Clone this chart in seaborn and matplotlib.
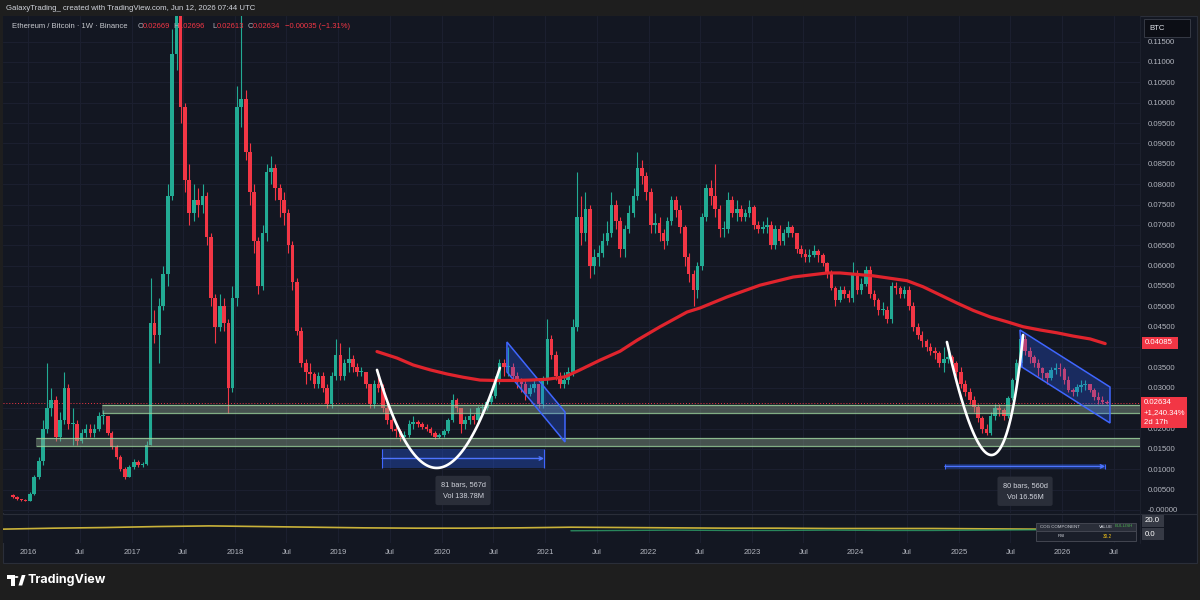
#!/usr/bin/env python3
"""
ETH/BTC weekly chart, TradingView dark style, with drawings.
"""
import numpy as np
import pandas as pd
import matplotlib
matplotlib.use('Agg')
import matplotlib.pyplot as plt
import matplotlib.dates as mdates
from matplotlib.patches import Rectangle, Polygon, Circle
import seaborn as sns

# ============================================================================
# Data (semi-monthly candles, 1st / 15th)
# ============================================================================
candle_start = '2015-11-01'
first_open = 0.0036

closes = [
    0.0032, 0.0026, 0.0024, 0.0023,                                    # 2015
    0.0040, 0.0080, 0.0120, 0.0200, 0.0250, 0.0270, 0.0180, 0.0220,    # 2016
    0.0300, 0.0210, 0.0210, 0.0170, 0.0190, 0.0200, 0.0190, 0.0200,
    0.0230, 0.0230, 0.0190, 0.0155, 0.0130, 0.0100, 0.0082, 0.0106,
    0.0118, 0.0110, 0.0112, 0.0160, 0.0460, 0.0430, 0.0500, 0.0580,    # 2017
    0.0770, 0.1120, 0.1350, 0.0990, 0.0810, 0.0730, 0.0760, 0.0750,
    0.0770, 0.0670, 0.0520, 0.0450, 0.0500, 0.0460, 0.0300, 0.0520,
    0.0990, 0.1010, 0.0880, 0.0780, 0.0660, 0.0550, 0.0680, 0.0830,    # 2018
    0.0840, 0.0790, 0.0760, 0.0730, 0.0650, 0.0560, 0.0440, 0.0360,
    0.0340, 0.0335, 0.0310, 0.0330, 0.0300, 0.0260, 0.0330, 0.0380,
    0.0330, 0.0360, 0.0370, 0.0350, 0.0340, 0.0340, 0.0310, 0.0260,    # 2019
    0.0310, 0.0300, 0.0250, 0.0220, 0.0200, 0.0193, 0.0180, 0.0185,
    0.0210, 0.0215, 0.0210, 0.0205, 0.0200, 0.0190, 0.0180, 0.0185,
    0.0195, 0.0220, 0.0270, 0.0250, 0.0210, 0.0220, 0.0230, 0.0220,    # 2020
    0.0250, 0.0250, 0.0265, 0.0280, 0.0320, 0.0360, 0.0350, 0.0350,
    0.0330, 0.0320, 0.0310, 0.0285, 0.0300, 0.0310, 0.0260, 0.0320,
    0.0420, 0.0380, 0.0330, 0.0310, 0.0320, 0.0340, 0.0450, 0.0720,    # 2021
    0.0680, 0.0740, 0.0600, 0.0620, 0.0630, 0.0660, 0.0680, 0.0750,
    0.0710, 0.0640, 0.0690, 0.0730, 0.0770, 0.0840, 0.0820, 0.0780,
    0.0700, 0.0705, 0.0680, 0.0660, 0.0710, 0.0760, 0.0737, 0.0696,    # 2022
    0.0620, 0.0580, 0.0540, 0.0600, 0.0720, 0.0790, 0.0770, 0.0740,
    0.0690, 0.0690, 0.0760, 0.0730, 0.0740, 0.0720, 0.0730, 0.0745,
    0.0700, 0.0690, 0.0695, 0.0700, 0.0650, 0.0690, 0.0660, 0.0680,    # 2023
    0.0696, 0.0680, 0.0640, 0.0628, 0.0620, 0.0625, 0.0635, 0.0625,
    0.0606, 0.0580, 0.0545, 0.0516, 0.0540, 0.0530, 0.0520, 0.0580,
    0.0540, 0.0556, 0.0590, 0.0530, 0.0516, 0.0490, 0.0490, 0.0470,    # 2024
    0.0550, 0.0545, 0.0530, 0.0540, 0.0500, 0.0450, 0.0430, 0.0415,
    0.0400, 0.0390, 0.0385, 0.0360, 0.0370, 0.0376, 0.0360, 0.0340,
    0.0310, 0.0290, 0.0270, 0.0254, 0.0225, 0.0200, 0.0188, 0.0230,    # 2025
    0.0250, 0.0245, 0.0230, 0.0275, 0.0320, 0.0360, 0.0420, 0.0390,
    0.0376, 0.0360, 0.0348, 0.0336, 0.0325, 0.0344, 0.0348, 0.0345,
    0.0320, 0.0295, 0.0290, 0.0303, 0.0307, 0.0310, 0.0295, 0.0278,    # 2026
    0.0270, 0.0265, 0.02634,
]
highs = [
    0.0040, 0.0034, 0.0027, 0.0026,
    0.0045, 0.0085, 0.0130, 0.0220, 0.0360, 0.0300, 0.0280, 0.0240,
    0.0340, 0.0310, 0.0250, 0.0220, 0.0200, 0.0210, 0.0210, 0.0210,
    0.0240, 0.0245, 0.0230, 0.0195, 0.0160, 0.0135, 0.0105, 0.0110,
    0.0125, 0.0122, 0.0118, 0.0170, 0.0570, 0.0490, 0.0520, 0.0600,
    0.0800, 0.1180, 0.1560, 0.1400, 0.1000, 0.0850, 0.0800, 0.0790,
    0.0800, 0.0780, 0.0680, 0.0530, 0.0530, 0.0520, 0.0470, 0.0550,
    0.1040, 0.1250, 0.1030, 0.0900, 0.0800, 0.0670, 0.0700, 0.0850,
    0.0870, 0.0850, 0.0800, 0.0780, 0.0740, 0.0660, 0.0570, 0.0450,
    0.0370, 0.0360, 0.0340, 0.0340, 0.0340, 0.0310, 0.0340, 0.0420,
    0.0410, 0.0370, 0.0400, 0.0380, 0.0360, 0.0350, 0.0340, 0.0310,
    0.0320, 0.0340, 0.0310, 0.0260, 0.0225, 0.0210, 0.0200, 0.0195,
    0.0220, 0.0230, 0.0220, 0.0215, 0.0210, 0.0205, 0.0195, 0.0190,
    0.0200, 0.0225, 0.0285, 0.0275, 0.0250, 0.0230, 0.0250, 0.0235,
    0.0255, 0.0260, 0.0270, 0.0285, 0.0330, 0.0370, 0.0370, 0.0400,
    0.0360, 0.0340, 0.0325, 0.0320, 0.0310, 0.0320, 0.0310, 0.0330,
    0.0470, 0.0430, 0.0390, 0.0340, 0.0340, 0.0350, 0.0470, 0.0830,
    0.0770, 0.0780, 0.0750, 0.0640, 0.0650, 0.0680, 0.0710, 0.0780,
    0.0760, 0.0720, 0.0700, 0.0750, 0.0790, 0.0880, 0.0860, 0.0830,
    0.0790, 0.0730, 0.0720, 0.0690, 0.0720, 0.0770, 0.0770, 0.0750,
    0.0700, 0.0630, 0.0590, 0.0610, 0.0730, 0.0800, 0.0810, 0.0850,
    0.0750, 0.0710, 0.0780, 0.0770, 0.0760, 0.0750, 0.0740, 0.0760,
    0.0750, 0.0710, 0.0710, 0.0720, 0.0710, 0.0700, 0.0700, 0.0690,
    0.0710, 0.0700, 0.0680, 0.0650, 0.0640, 0.0640, 0.0650, 0.0640,
    0.0630, 0.0610, 0.0590, 0.0550, 0.0550, 0.0550, 0.0540, 0.0610,
    0.0590, 0.0570, 0.0600, 0.0600, 0.0540, 0.0520, 0.0510, 0.0500,
    0.0560, 0.0560, 0.0550, 0.0550, 0.0550, 0.0510, 0.0460, 0.0440,
    0.0420, 0.0410, 0.0400, 0.0390, 0.0400, 0.0390, 0.0380, 0.0365,
    0.0350, 0.0320, 0.0300, 0.0280, 0.0260, 0.0230, 0.0210, 0.0240,
    0.0260, 0.0260, 0.0250, 0.0280, 0.0325, 0.0370, 0.0430, 0.0430,
    0.0400, 0.0380, 0.0370, 0.0350, 0.0340, 0.0350, 0.0360, 0.0360,
    0.0350, 0.0330, 0.0300, 0.0310, 0.0320, 0.0320, 0.0310, 0.0300,
    0.0290, 0.0280, 0.0270,
]
lows = [
    0.0029, 0.0024, 0.0022, 0.0021,
    0.0022, 0.0038, 0.0075, 0.0110, 0.0190, 0.0230, 0.0170, 0.0170,
    0.0210, 0.0200, 0.0160, 0.0160, 0.0165, 0.0180, 0.0180, 0.0180,
    0.0195, 0.0210, 0.0185, 0.0150, 0.0125, 0.0095, 0.0075, 0.0080,
    0.0100, 0.0105, 0.0105, 0.0110, 0.0160, 0.0410, 0.0360, 0.0490,
    0.0550, 0.0760, 0.1080, 0.0950, 0.0780, 0.0700, 0.0710, 0.0720,
    0.0730, 0.0650, 0.0500, 0.0410, 0.0440, 0.0440, 0.0237, 0.0290,
    0.0500, 0.0940, 0.0860, 0.0750, 0.0630, 0.0530, 0.0540, 0.0660,
    0.0800, 0.0760, 0.0720, 0.0700, 0.0630, 0.0540, 0.0430, 0.0350,
    0.0310, 0.0320, 0.0300, 0.0300, 0.0290, 0.0250, 0.0250, 0.0320,
    0.0320, 0.0320, 0.0340, 0.0340, 0.0330, 0.0330, 0.0300, 0.0250,
    0.0250, 0.0290, 0.0240, 0.0210, 0.0195, 0.0180, 0.0170, 0.0175,
    0.0180, 0.0200, 0.0205, 0.0200, 0.0195, 0.0185, 0.0175, 0.0178,
    0.0180, 0.0190, 0.0215, 0.0240, 0.0190, 0.0200, 0.0210, 0.0210,
    0.0215, 0.0240, 0.0245, 0.0260, 0.0275, 0.0310, 0.0330, 0.0330,
    0.0320, 0.0300, 0.0290, 0.0270, 0.0280, 0.0290, 0.0250, 0.0250,
    0.0310, 0.0370, 0.0320, 0.0300, 0.0300, 0.0310, 0.0330, 0.0440,
    0.0650, 0.0660, 0.0570, 0.0580, 0.0600, 0.0620, 0.0650, 0.0670,
    0.0690, 0.0620, 0.0620, 0.0680, 0.0720, 0.0760, 0.0800, 0.0760,
    0.0680, 0.0680, 0.0660, 0.0640, 0.0650, 0.0700, 0.0720, 0.0680,
    0.0600, 0.0560, 0.0500, 0.0520, 0.0590, 0.0710, 0.0750, 0.0720,
    0.0670, 0.0670, 0.0680, 0.0720, 0.0710, 0.0710, 0.0710, 0.0720,
    0.0690, 0.0680, 0.0680, 0.0680, 0.0640, 0.0640, 0.0650, 0.0650,
    0.0670, 0.0670, 0.0630, 0.0620, 0.0610, 0.0610, 0.0620, 0.0610,
    0.0600, 0.0570, 0.0540, 0.0500, 0.0510, 0.0520, 0.0510, 0.0510,
    0.0530, 0.0530, 0.0550, 0.0520, 0.0500, 0.0480, 0.0480, 0.0460,
    0.0460, 0.0530, 0.0520, 0.0520, 0.0490, 0.0440, 0.0420, 0.0400,
    0.0390, 0.0380, 0.0370, 0.0350, 0.0340, 0.0360, 0.0355, 0.0330,
    0.0300, 0.0280, 0.0260, 0.0240, 0.0215, 0.0190, 0.0183, 0.0185,
    0.0220, 0.0230, 0.0220, 0.0225, 0.0270, 0.0310, 0.0350, 0.0380,
    0.0360, 0.0350, 0.0330, 0.0320, 0.0310, 0.0320, 0.0335, 0.0330,
    0.0310, 0.0290, 0.0280, 0.0280, 0.0290, 0.0295, 0.0290, 0.0270,
    0.0260, 0.0260, 0.0261,
]

# 200-week moving average (red line)
ma_dates = ['2019-05-17', '2019-07-27', '2019-09-22', '2019-11-21', '2020-01-19',
            '2020-03-16', '2020-05-15', '2020-07-14', '2020-09-09', '2020-11-08',
            '2021-01-07', '2021-03-11', '2021-05-03', '2021-07-13', '2021-09-22',
            '2021-11-21', '2022-02-10', '2022-05-16', '2022-07-01', '2022-10-04',
            '2023-01-29', '2023-05-26', '2023-09-23', '2023-11-07', '2024-03-03',
            '2024-07-01', '2024-08-27', '2024-10-26', '2024-12-25', '2025-02-20',
            '2025-04-21', '2025-06-20', '2025-08-15', '2025-10-14', '2025-12-13',
            '2026-02-08', '2026-04-09', '2026-06-01']
ma_values = [0.0389, 0.0373, 0.0356, 0.0344, 0.0334, 0.0326, 0.0319, 0.0318, 0.0318, 0.0319,
             0.0321, 0.0327, 0.0344, 0.0368, 0.0390, 0.0417, 0.0450, 0.0486, 0.0496, 0.0523,
             0.0552, 0.0572, 0.0582, 0.0582, 0.0575, 0.0563, 0.0548, 0.0528, 0.0508, 0.0490,
             0.0474, 0.0462, 0.0450, 0.0442, 0.0435, 0.0427, 0.0420, 0.04085]

# lower pane oscillator lines
osc_start = '2015-10-01'
osc_yellow = [9.0, 10.5, 11.5, 13.0, 14.0, 13.0, 12.0, 11.0, 10.5, 10.5, 11.0,
              12.0, 11.5, 11.0, 10.5, 10.5, 10.0, 10.0, 10.0, 9.5, 9.0, 9.0]
osc_green_start = '2021-04-01'
osc_green = [6.5, 7.0, 7.5, 7.0, 7.0, 7.5, 7.0, 7.0, 7.5, 8.0, 8.5]

# drawings: support zones (start date, low, high)
zones = [('2016-09-18', 0.0238, 0.0258), ('2016-01-29', 0.0157, 0.0177)]
# falling channels (corner dates / prices)
channels = [
    (['2020-08-18', '2021-03-11', '2021-03-11', '2020-08-18'], [0.04125, 0.02406, 0.0167, 0.0339]),
    (['2025-08-04', '2026-06-18', '2026-06-18', '2025-08-11'], [0.0442, 0.0302, 0.02136, 0.0351]),
]
# cup curves (start, control, end)
cups = [
    (['2019-05-17', '2019-12-10', '2020-07-24'], [0.0344, -0.0140, 0.0349]),
    (['2024-11-19', '2025-05-22', '2025-08-15'], [0.04125, -0.0151, 0.04297]),
]
# date ranges (start, end, low, high, label)
ranges = [
    ('2019-06-04', '2020-12-27', 0.0103, 0.0150, '81 bars, 567d\nVol 138.78M'),
    ('2024-11-12', '2026-06-01', 0.0101, 0.0113, '80 bars, 560d\nVol 16.56M'),
]
last_price = 0.02634
ma_last = 0.04085

# ============================================================================
# Style
# ============================================================================
sns.set_theme(style='dark')
plt.rcParams['font.family'] = ['Liberation Sans', 'DejaVu Sans']

BG = '#131722'
FRAME = '#1e1e1e'
GRID = '#1c2030'
TXT = '#b2b5be'
UP = '#22ab94'
DOWN = '#f23645'
MA_RED = '#e0242d'
BLUE = '#2962ff'

W, H = 1200, 600
def fx(px):
    return px / W
def fy(py):
    return 1 - py / H

fig = plt.figure(figsize=(12, 6), dpi=100, facecolor=FRAME)
fig.add_artist(Rectangle((fx(3), fy(563)), 1194 / W, 547 / H, transform=fig.transFigure,
                         facecolor=BG, edgecolor='#2a2e39', lw=0.8, zorder=-1))

ax = fig.add_axes([fx(3), fy(513), 1137 / W, 497 / H])
ax2 = fig.add_axes([fx(3), fy(543), 1137 / W, 29 / H])
for a in (ax, ax2):
    a.set_facecolor(BG)
    for s in a.spines.values():
        s.set_visible(False)

xmin, xmax = pd.Timestamp('2015-10-04'), pd.Timestamp('2026-10-02')

# ============================================================================
# Candles
# ============================================================================
dates = pd.date_range(candle_start, periods=len(closes), freq='SMS') + pd.Timedelta(days=7)
df = pd.DataFrame({'date': dates, 'close': closes, 'high': highs, 'low': lows})
df['open'] = [first_open] + closes[:-1]
df['high'] = df[['high', 'open', 'close']].max(axis=1)
df['low'] = df[['low', 'open', 'close']].min(axis=1)
colors = np.where(df['close'] >= df['open'], UP, DOWN)

ax.vlines(df['date'], df['low'], df['high'], colors=colors, lw=0.8, zorder=3)
ax.bar(df['date'], (df['close'] - df['open']).abs().clip(lower=0.00025),
       bottom=df[['open', 'close']].min(axis=1), width=12.5, color=colors, linewidth=0, zorder=3)

# 200W MA
sns.lineplot(x=pd.to_datetime(ma_dates), y=ma_values, ax=ax, color=MA_RED, lw=2.3, zorder=5)

# current price dotted line
ax.axhline(last_price, color=DOWN, ls=(0, (1, 2)), lw=0.7, zorder=2)

# zones
for start, lo, hi in zones:
    ax.fill_between([pd.Timestamp(start), xmax], lo, hi, color='#8fa58f', alpha=0.42, lw=0, zorder=4)
    ax.hlines([lo, hi], pd.Timestamp(start), xmax, color='#9ed49e', lw=0.9, alpha=0.8, zorder=4)

# channels
for cd, cp in channels:
    pts = np.column_stack([mdates.date2num(pd.to_datetime(cd)), cp])
    ax.add_patch(Polygon(pts, closed=True, facecolor=BLUE, alpha=0.28, edgecolor='none', zorder=4))
    ax.add_patch(Polygon(pts, closed=True, facecolor='none', edgecolor='#3f66ff', lw=1.1, zorder=4))

# cups (quadratic bezier)
t = np.linspace(0, 1, 120)
for cd, cp in cups:
    xs = mdates.date2num(pd.to_datetime(cd))
    bx = (1 - t) ** 2 * xs[0] + 2 * (1 - t) * t * xs[1] + t ** 2 * xs[2]
    by = (1 - t) ** 2 * cp[0] + 2 * (1 - t) * t * cp[1] + t ** 2 * cp[2]
    ax.plot(mdates.num2date(bx), by, color='white', lw=1.9, zorder=6)

# date ranges
for start, end, lo, hi, label in ranges:
    s, e = pd.Timestamp(start), pd.Timestamp(end)
    ax.fill_between([s, e], lo, hi, color=BLUE, alpha=0.32, lw=0, zorder=4)
    ax.vlines([s, e], lo, hi, color='#3f66ff', lw=0.8, zorder=4)
    mid = (lo + hi) / 2
    ax.annotate('', xy=(e, mid), xytext=(s, mid),
                arrowprops=dict(arrowstyle='->', color='#4d74ff', lw=1.0,
                                shrinkA=0, shrinkB=0, mutation_scale=6), zorder=5)
    ax.text(s + (e - s) / 2, lo - 0.0055, label, ha='center', va='center',
            color='#d1d4dc', fontsize=5.3, linespacing=2.0, zorder=7,
            bbox=dict(boxstyle='round,pad=0.7,rounding_size=0.3', fc='#2a2e39', ec='none'))

# axes, grid, ticks (labels hidden where a price tag sits on top)
ax.set_xlim(xmin, xmax)
ax.set_ylim(-0.000737, 0.12129)
price_ticks = np.round(np.arange(0, 0.1151, 0.005), 3)
covered = {0.025, 0.04}
ax.set_yticks(price_ticks)
ax.set_yticklabels(['' if v in covered else ('-0.00000' if v == 0 else f'{v:.5f}')
                    for v in price_ticks])
ax.yaxis.tick_right()
ax.tick_params(axis='y', length=0, pad=5.5, labelsize=5.6, labelcolor=TXT)
time_ticks = [pd.Timestamp(f'{y}-{m:02d}-01') for y in range(2016, 2027) for m in (1, 7)]
time_labels = [str(d.year) if d.month == 1 else 'Jul' for d in time_ticks]
ax.set_xticks(time_ticks)
ax.tick_params(axis='x', length=0, labelbottom=False)
ax.grid(True, color=GRID, lw=0.7)
ax.set_xlabel('')
ax.set_ylabel('')

# lower pane
osc_dates = pd.date_range(osc_start, periods=len(osc_yellow), freq='6MS')
green_dates = pd.date_range(osc_green_start, periods=len(osc_green), freq='6MS')
sns.lineplot(x=osc_dates, y=osc_yellow, ax=ax2, color='#c9b23a', lw=1.2)
sns.lineplot(x=green_dates, y=osc_green, ax=ax2, color='#2fa36b', lw=1.0, alpha=0.8)
ax2.set_xlim(xmin, xmax)
ax2.set_ylim(-12.3, 32.3)
ax2.set_yticks([])
ax2.set_xticks(time_ticks)
ax2.set_xticklabels(time_labels)
ax2.tick_params(axis='x', length=0, pad=4.5, labelsize=5.6, labelcolor=TXT)
ax2.grid(True, axis='x', color=GRID, lw=0.7)
ax2.set_xlabel('')
ax2.set_ylabel('')

# separators
fig.add_artist(plt.Line2D([fx(3), fx(1197)], [fy(513.5)] * 2, color='#2a2e39', lw=0.8))
fig.add_artist(plt.Line2D([fx(1140), fx(1140)], [fy(16), fy(543)], color='#1f2330', lw=0.6))

# ============================================================================
# Header, labels, footer
# ============================================================================
fig.text(fx(6), fy(8.5), 'GalaxyTrading_ created with TradingView.com, Jun 12, 2026 07:44 UTC',
         color='#d1d4dc', fontsize=5.6, va='center')
hdr = [(12, 'Ethereum / Bitcoin · 1W · Binance', '#c8cad0'),
       (138, 'O', TXT), (142.5, '0.02669', DOWN),
       (173, 'H', TXT), (178, '0.02696', DOWN),
       (212, 'L', TXT), (216.5, '0.02613', DOWN),
       (248, 'C', TXT), (253, '0.02634', DOWN),
       (285, '−0.00035 (−1.31%)', DOWN)]
for x, s, c in hdr:
    fig.text(fx(x), fy(27), s, color=c, fontsize=5.5, va='center', zorder=8)

def label_box(x0, y0, x1, y1, fc, ec='none'):
    fig.add_artist(Rectangle((fx(x0), fy(y1)), (x1 - x0) / W, (y1 - y0) / H,
                             transform=fig.transFigure, facecolor=fc, edgecolor=ec, lw=0.7, zorder=6))

label_box(1144, 19, 1190, 37, '#0c0e15', '#363a45')
fig.text(fx(1149), fy(28), 'BTC', color='#e0e3eb', fontsize=5.6, va='center', zorder=7)

label_box(1142, 337, 1178, 349, DOWN)
fig.text(fx(1145), fy(343), f'{ma_last:.5f}', color='white', fontsize=5.6, va='center', zorder=7)

label_box(1141, 397, 1187, 428, DOWN)
for yy, s in [(403, f'{last_price:.5f}'), (412.5, '+1,240.34%'), (422, '2d 17h')]:
    fig.text(fx(1144), fy(yy), s, color='white', fontsize=5.6, va='center', zorder=7)

label_box(1142, 515, 1164, 527, '#363a45')
fig.text(fx(1145), fy(521), '20.0', color='white', fontsize=5.6, va='center', zorder=7)
label_box(1142, 528, 1164, 540, '#363a45')
fig.text(fx(1145), fy(534), '0.0', color='white', fontsize=5.6, va='center', zorder=7)

# small table in lower pane
label_box(1036, 523, 1136, 531, '#2a2e39', '#434651')
label_box(1036, 531, 1136, 541, '#1a1e29', '#434651')
fig.text(fx(1040), fy(527), 'COG COMPONENT', color='#d1d4dc', fontsize=3.2, va='center', zorder=7)
fig.text(fx(1099), fy(527), 'VALUE', color='#d1d4dc', fontsize=3.2, va='center', zorder=7)
fig.text(fx(1115), fy(526), 'BULLISH', color='#4caf50', fontsize=3.2, va='center', zorder=7)
fig.text(fx(1058), fy(536), 'RSI', color='#d1d4dc', fontsize=3.2, va='center', zorder=7)
fig.text(fx(1103), fy(536), '30.2', color='#f5c518', fontsize=3.4, va='center', zorder=7)

# footer logo
logo = [Rectangle((fx(7), fy(578.5)), 7.5 / W, 3.5 / H),
        Rectangle((fx(10.5), fy(585.5)), 4 / W, 10.5 / H),
        Circle((fx(16.5), fy(577)), 1.9 / W),
        Polygon([(fx(18.5), fy(585.5)), (fx(21.8), fy(575)), (fx(25.5), fy(575)), (fx(22.2), fy(585.5))])]
for p in logo:
    p.set_transform(fig.transFigure)
    p.set_facecolor('white')
    p.set_edgecolor('none')
    fig.add_artist(p)
fig.text(fx(28), fy(580), 'TradingView', color='white', fontsize=9, fontweight='bold',
         family=['Inter', 'DejaVu Sans'], va='center')

plt.savefig('out.png', dpi=100, facecolor=FRAME)
plt.close()
